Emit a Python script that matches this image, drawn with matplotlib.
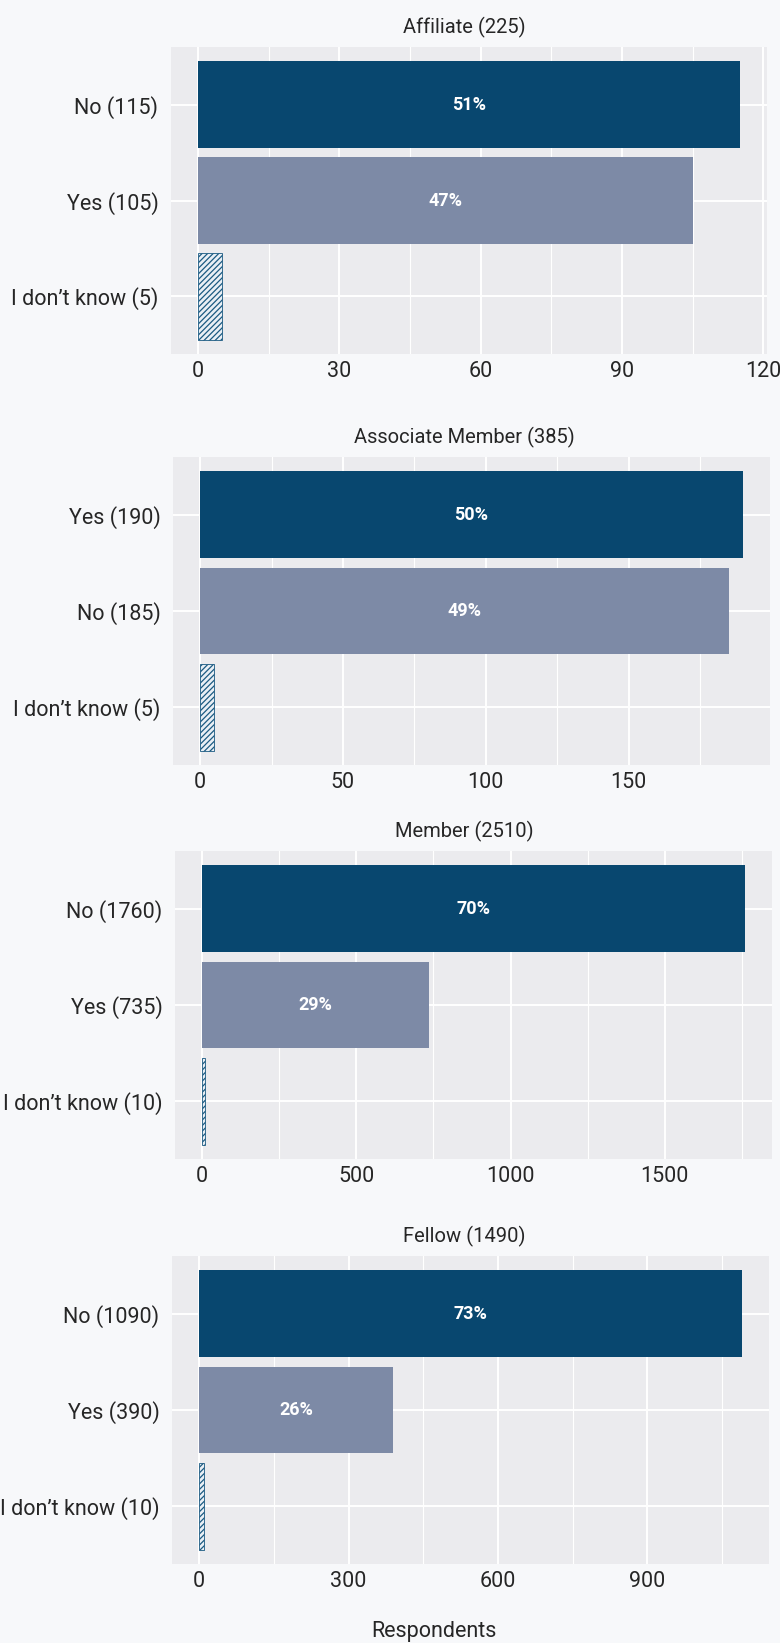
import matplotlib
matplotlib.use("Agg")
import matplotlib.pyplot as plt
from matplotlib.ticker import MultipleLocator

plt.rcParams['font.family'] = ['Roboto', 'DejaVu Sans']
plt.rcParams['hatch.linewidth'] = 0.9

# ---- data ----
panel_titles = ["Affiliate (225)", "Associate Member (385)", "Member (2510)", "Fellow (1490)"]
affiliate_labels = ["No (115)", "Yes (105)", "I don\u2019t know (5)"]
affiliate_values = [115, 105, 5]
affiliate_pct = ["51%", "47%", ""]
associate_labels = ["Yes (190)", "No (185)", "I don\u2019t know (5)"]
associate_values = [190, 185, 5]
associate_pct = ["50%", "49%", ""]
member_labels = ["No (1760)", "Yes (735)", "I don\u2019t know (10)"]
member_values = [1760, 735, 10]
member_pct = ["70%", "29%", ""]
fellow_labels = ["No (1090)", "Yes (390)", "I don\u2019t know (10)"]
fellow_values = [1090, 390, 10]
fellow_pct = ["73%", "26%", ""]
major_steps = [30, 50, 500, 300]
x_label = "Respondents"

panels = [
    (affiliate_labels, affiliate_values, affiliate_pct),
    (associate_labels, associate_values, associate_pct),
    (member_labels, member_values, member_pct),
    (fellow_labels, fellow_values, fellow_pct),
]

# ---- style ----
W, H = 780, 1643
FIG_BG = "#F7F8FA"
AX_BG = "#EBEBEE"
DARK = "#08476F"
MID = "#7D8AA6"
HATCH_FACE = "#E9EFF5"
HATCH_EDGE = "#1B5A82"
TEXT = "#262626"

# axes boxes in pixels: (left, top, right, bottom)
boxes = [(171, 47, 767, 354), (173, 457, 770, 765), (175, 851, 772, 1159), (172, 1256, 769, 1564)]

fig = plt.figure(figsize=(W / 100, H / 100), dpi=100, facecolor=FIG_BG)

for (labels, values, pcts), title, step, (l, t, r, b) in zip(panels, panel_titles, major_steps, boxes):
    ax = fig.add_axes([l / W, 1 - b / H, (r - l) / W, (b - t) / H])
    ax.set_facecolor(AX_BG)
    ypos = list(range(len(values)))
    colors = [DARK, MID, HATCH_FACE]
    bars = ax.barh(ypos, values, height=0.9, color=colors, zorder=3)
    hb = bars[2]
    hb.set_hatch("//////")
    hb.set_edgecolor(HATCH_EDGE)
    hb.set_linewidth(0.6)
    for bar, v, p in zip(bars, values, pcts):
        if p:
            ax.text(v / 2, bar.get_y() + bar.get_height() / 2, p, ha="center", va="center",
                    color="white", fontsize=13, fontweight="bold", zorder=4)
    ax.set_yticks(ypos)
    ax.set_yticklabels(labels)
    ax.set_ylim(2.6, -0.6)
    ax.xaxis.set_major_locator(MultipleLocator(step))
    ax.xaxis.set_minor_locator(MultipleLocator(step / 2))
    ax.set_xlim(-0.05 * max(values), max(values) * 1.05)
    ax.grid(True, which="major", axis="both", color="white", linewidth=1.4, zorder=0)
    ax.grid(True, which="minor", axis="x", color="white", linewidth=0.8, zorder=0)
    ax.set_axisbelow(True)
    for s in ax.spines.values():
        s.set_visible(False)
    ax.tick_params(axis="both", which="both", length=0, labelsize=15.5, colors=TEXT)
    ax.tick_params(axis="y", pad=9)
    ax.tick_params(axis="x", pad=5)
    fig.text(464 / W, 1 - (t - 20) / H, title, ha="center", va="center", fontsize=14.5, color=TEXT)

fig.text(434 / W, 1 - 1632 / H, x_label, ha="center", va="center", fontsize=15.5, color=TEXT)

fig.savefig("out.png", dpi=100, facecolor=FIG_BG)
